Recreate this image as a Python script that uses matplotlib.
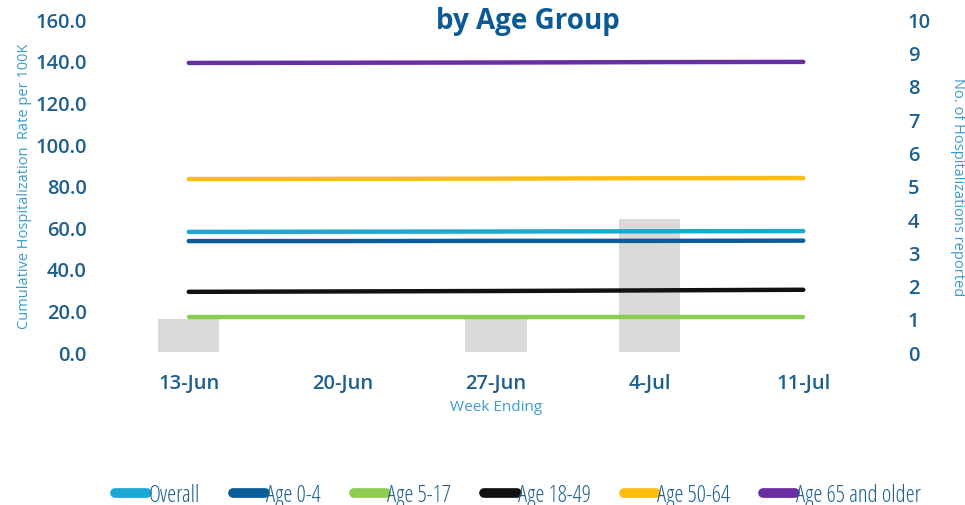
import matplotlib.pyplot as plt
from matplotlib.ticker import FormatStrFormatter

plt.rcParams['font.family'] = ['Open Sans', 'DejaVu Sans']

weeks = ['13-Jun', '20-Jun', '27-Jun', '4-Jul', '11-Jul']
hosp_counts = [1, 0, 1, 4, 0]

overall = [57.8, 57.9, 58.0, 58.1, 58.2]
age_0_4 = [53.4, 53.4, 53.5, 53.5, 53.6]
age_5_17 = [17.0, 17.0, 17.0, 17.0, 17.0]
age_18_49 = [29.0, 29.2, 29.4, 29.7, 30.0]
age_50_64 = [83.2, 83.3, 83.4, 83.6, 83.7]
age_65 = [139.0, 139.1, 139.2, 139.4, 139.5]

series = [('Overall', overall, '#1ba9d3'),
          ('Age 0-4', age_0_4, '#0a5d96'),
          ('Age 5-17', age_5_17, '#8ccc4f'),
          ('Age 18-49', age_18_49, '#111111'),
          ('Age 50-64', age_50_64, '#fdbc11'),
          ('Age 65 and older', age_65, '#6a2ea0')]

tick_col = '#1d5f8e'
label_col = '#3a9ccc'

fig = plt.figure(figsize=(9.65, 5.06), dpi=100)
ax = fig.add_axes([0.116, 0.302, 0.796, 0.658])
ax2 = ax.twinx()

x = list(range(len(weeks)))
ax2.bar(x, hosp_counts, width=0.4, color='#d9d9d9', zorder=1)
ax2.set_ylim(0, 10)
ax2.set_yticks(range(0, 11))

ax.set_zorder(ax2.get_zorder() + 1)
ax.patch.set_visible(False)
for name, vals, col in series:
    ax.plot(x, vals, color=col, lw=3.2, solid_capstyle='round', label=name)

ax.set_ylim(0, 160)
ax.set_xlim(-0.5, len(weeks) - 0.5)
ax.set_yticks(range(0, 161, 20))
ax.yaxis.set_major_formatter(FormatStrFormatter('%.1f'))
ax.set_xticks(x)
ax.set_xticklabels(weeks)

for a in (ax, ax2):
    for s in a.spines.values():
        s.set_visible(False)
    a.tick_params(length=0, labelsize=14.5, labelcolor=tick_col)
    for t in a.get_xticklabels() + a.get_yticklabels():
        t.set_fontweight('semibold')
ax.tick_params(axis='y', pad=18)
ax.tick_params(axis='x', pad=15)
ax2.tick_params(axis='y', pad=20)

ax.set_ylabel('Cumulative Hospitalization  Rate per 100K', color=label_col, fontsize=10.5)
ax.yaxis.set_label_coords(-0.104, 0.5)
ax2.set_ylabel('No. of Hospitalizations reported', color=label_col, fontsize=10.5, rotation=270)
ax2.yaxis.set_label_coords(1.11, 0.5)
ax.set_xlabel('Week Ending', color=label_col, fontsize=11, labelpad=4)

fig.text(0.547, 0.958, 'by Age Group', ha='center', va='center', fontsize=20,
         fontweight='bold', color='#0b5a96')

leg = fig.legend(loc='center', bbox_to_anchor=(0.537, 0.02), ncol=6, frameon=False,
                 fontsize=16.5, handlelength=1.4, handletextpad=0.05, columnspacing=1.45)
for t in leg.get_texts():
    t.set_color(tick_col)
    t.set_fontstretch('condensed')
for h in leg.legend_handles:
    h.set_linewidth(7)
    h.set_solid_capstyle('round')

fig.savefig('out.png', dpi=100)
